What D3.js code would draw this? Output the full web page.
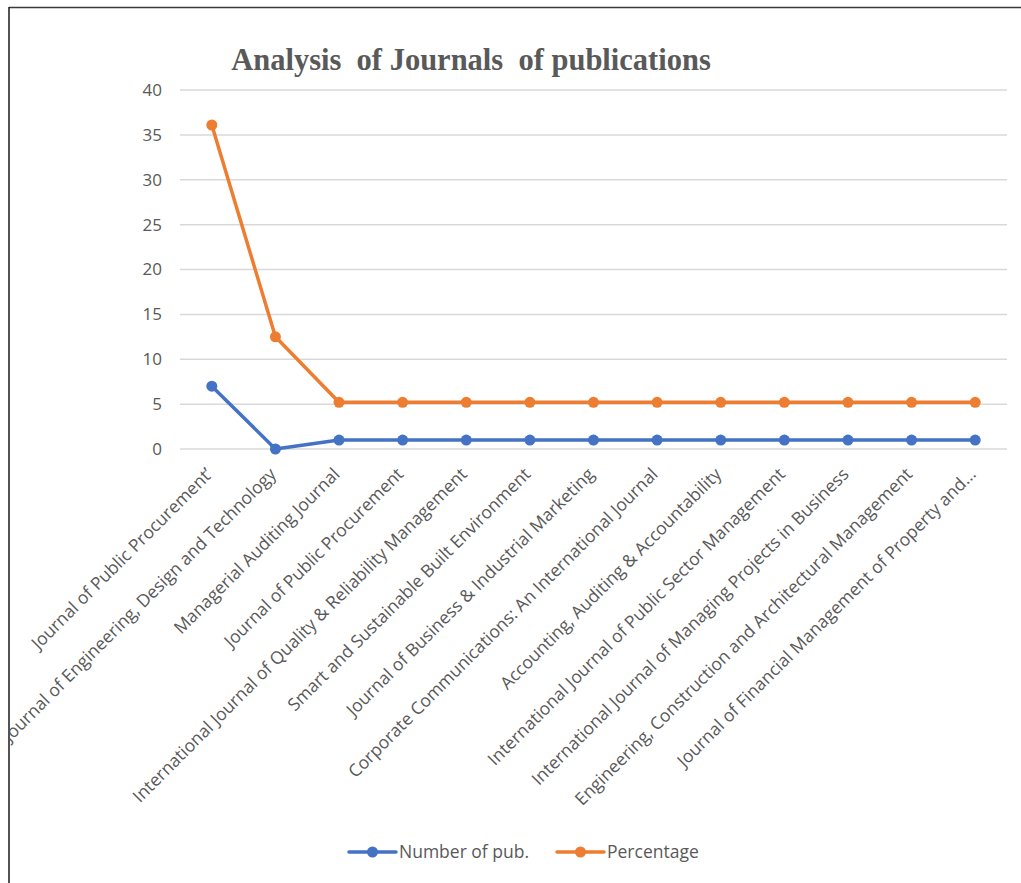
<!DOCTYPE html>
<html>
<head>
<meta charset="utf-8">
<script src="https://cdn.jsdelivr.net/npm/d3@7"></script>
<style>
  html, body { margin: 0; padding: 0; background: #fff; }
  svg { display: block; }
</style>
</head>
<body>
<svg id="chart" width="1021" height="883"></svg>
<script>
const categories = [
  "Journal of Public Procurement\u2019",
  "Journal of Engineering, Design and Technology",
  "Managerial Auditing Journal",
  "Journal of Public Procurement",
  "International Journal of Quality & Reliability Management",
  "Smart and Sustainable Built Environment",
  "Journal of Business & Industrial Marketing",
  "Corporate Communications: An International Journal",
  "Accounting, Auditing & Accountability",
  "International Journal of Public Sector Management",
  "International Journal of Managing Projects in  Business",
  "Engineering, Construction and Architectural Management",
  "Journal of Financial Management of Property and..."
];
const numberOfPub = [7, 0, 1, 1, 1, 1, 1, 1, 1, 1, 1, 1, 1];
const percentage = [36.1, 12.5, 5.2, 5.2, 5.2, 5.2, 5.2, 5.2, 5.2, 5.2, 5.2, 5.2, 5.2];
const yTicks = [0, 5, 10, 15, 20, 25, 30, 35, 40];
const seriesNames = ["Number of pub.", "Percentage"];
const seriesColors = ["#4472C4", "#ED7D31"];
const titleText = "Analysis  of Journals  of publications";

const svg = d3.select("#chart");
const W = 1021, H = 883;

svg.append("defs").append("clipPath").attr("id", "frameClip")
  .append("rect").attr("x", 10).attr("y", 8).attr("width", W - 10).attr("height", H - 8);

const g = svg.append("g").attr("clip-path", "url(#frameClip)");

// frame
svg.append("line").attr("x1", 9).attr("x2", W).attr("y1", 7.5).attr("y2", 7.5)
  .attr("stroke", "#3a3a3a").attr("stroke-width", 1.5);
svg.append("line").attr("x1", 9).attr("x2", 9).attr("y1", 7).attr("y2", H)
  .attr("stroke", "#1a1a1a").attr("stroke-width", 1.5);

const x = d3.scalePoint().domain(categories).range([180, 1007]).padding(0.5);
const y = d3.scaleLinear().domain([0, 40]).range([449, 90]);

// gridlines
g.append("g").selectAll("line").data(yTicks).join("line")
  .attr("x1", 180).attr("x2", 1007)
  .attr("y1", d => y(d)).attr("y2", d => y(d))
  .attr("stroke", "#d9d9d9").attr("stroke-width", 1.5);

// y axis
const yAxis = d3.axisLeft(y).tickValues(yTicks).tickSize(0).tickPadding(0);
const ya = g.append("g").attr("transform", "translate(162,0)").call(yAxis);
ya.select(".domain").remove();
ya.selectAll("text").attr("fill", "#595959").style("font-family", "'Open Sans', sans-serif")
  .style("font-size", "17px");

// x axis labels
const xAxis = d3.axisBottom(x).tickSize(0).tickPadding(0);
const xa = g.append("g").attr("transform", "translate(0,458)").call(xAxis);
xa.select(".domain").remove();
xa.selectAll("text")
  .attr("fill", "#595959")
  .style("font-family", "'Open Sans', sans-serif")
  .style("font-size", "17.5px")
  .attr("text-anchor", "end")
  .attr("dy", "0.35em")
  .attr("y", 0)
  .attr("x", 0)
  .attr("transform", "translate(-3,13) rotate(-45)");

// title
g.append("text").attr("x", 471).attr("y", 70).attr("text-anchor", "middle")
  .attr("fill", "#595959")
  .style("font-family", "'Liberation Serif', 'Times New Roman', serif")
  .style("font-weight", "bold").style("font-size", "30.5px")
  .style("white-space", "pre")
  .attr("xml:space", "preserve")
  .text(titleText);

// lines
const series = [numberOfPub, percentage];
const line = d3.line().x((d, i) => x(categories[i])).y(d => y(d));
series.forEach((vals, si) => {
  g.append("path").datum(vals).attr("d", line)
    .attr("fill", "none").attr("stroke", seriesColors[si]).attr("stroke-width", 3.5)
    .attr("stroke-linejoin", "round").attr("stroke-linecap", "round");
  g.append("g").selectAll("circle").data(vals).join("circle")
    .attr("cx", (d, i) => x(categories[i])).attr("cy", d => y(d)).attr("r", 5.5)
    .attr("fill", seriesColors[si]);
});

// legend
const legendX = [349, 557];
const lg = g.append("g");
seriesNames.forEach((name, i) => {
  const lx = legendX[i], ly = 852;
  lg.append("line").attr("x1", lx).attr("x2", lx + 47).attr("y1", ly).attr("y2", ly)
    .attr("stroke", seriesColors[i]).attr("stroke-width", 3.5).attr("stroke-linecap", "round");
  lg.append("circle").attr("cx", lx + 23.5).attr("cy", ly).attr("r", 5.5).attr("fill", seriesColors[i]);
  lg.append("text").attr("x", lx + 50).attr("y", ly).attr("dy", "0.35em")
    .attr("fill", "#595959").style("font-family", "'Open Sans', sans-serif").style("font-size", "17.5px")
    .text(name);
});
</script>
</body>
</html>
